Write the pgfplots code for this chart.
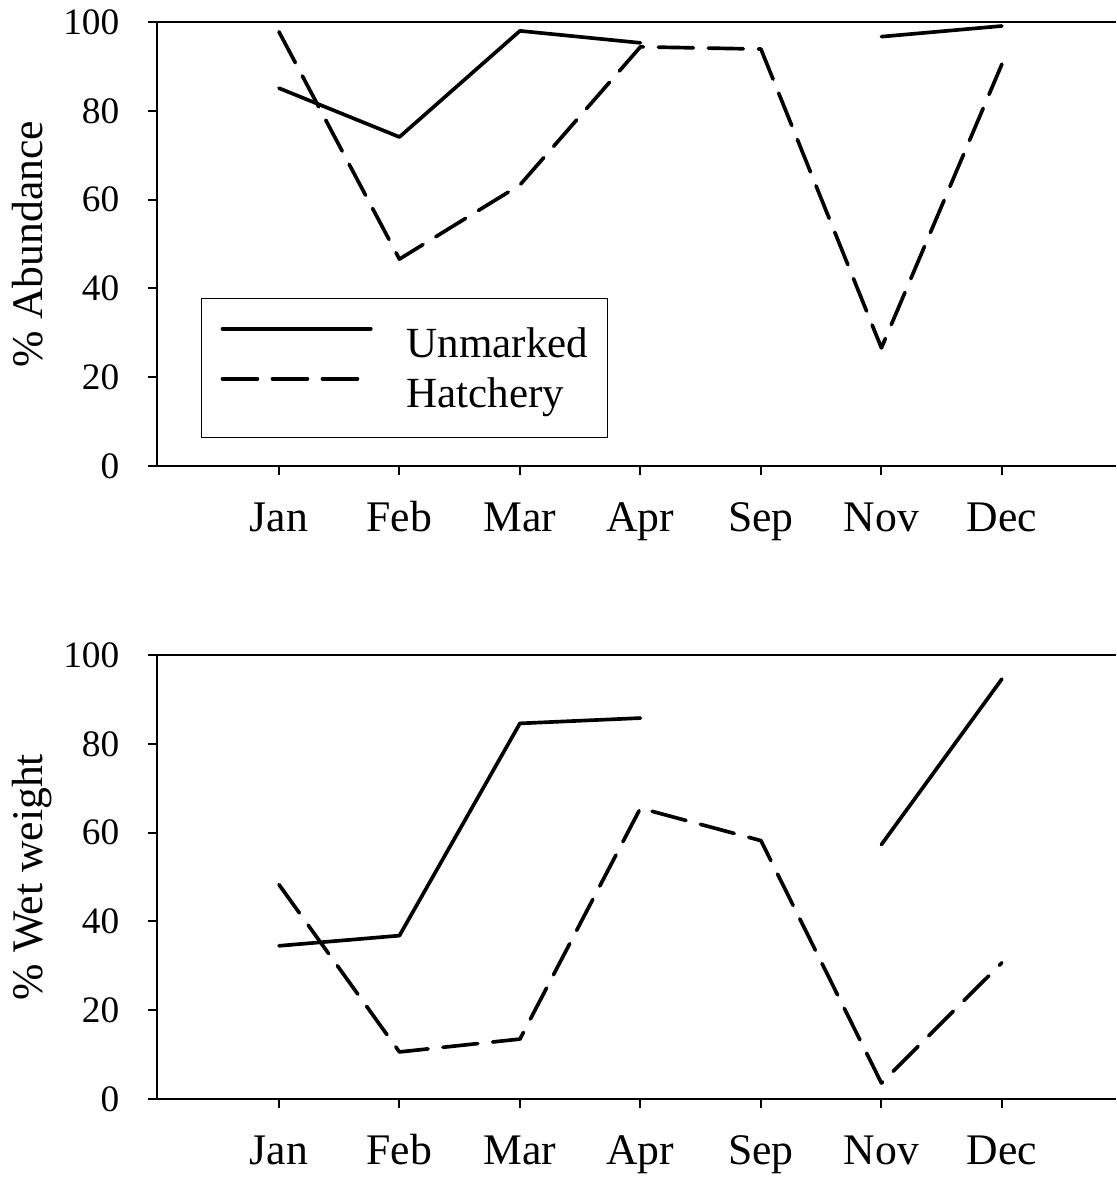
\documentclass[border=0pt]{standalone}
\usepackage{fontspec}
\setmainfont{Liberation Serif}
\usepackage{pgfplots}
\pgfplotsset{compat=1.18}

% one panel of the figure, 1 px of the reference = 0.3pt
\pgfplotsset{
  panel/.style={
    scale only axis,
    width=287.7pt, height=133.2pt,
    xmin=-1.012, xmax=6.947,
    ymin=0, ymax=100,
    axis x line*=box, axis y line*=left,
    xtick pos=bottom, ytick pos=left,
    tick align=outside,
    major tick length=2.7pt,
    axis line style={line width=0.6pt},
    every tick/.style={line width=0.6pt, black},
    xtick={0,...,6},
    xticklabels={Jan,Feb,Mar,Apr,Sep,Nov,Dec},
    ytick={0,20,...,100},
    /pgf/number format/assume math mode=true,
    xticklabel style={anchor=base, inner sep=0pt, yshift=-17pt,
      font=\fontsize{13.1}{15}\selectfont},
    yticklabel style={anchor=east, inner sep=0pt, xshift=-8.4pt,
      font=\fontsize{11.2}{13}\selectfont},
    every axis y label/.style={at={(axis description cs:-0.1199,0.5)},
      rotate=90, anchor=base, inner sep=0pt,
      font=\fontsize{13.1}{15}\selectfont},
    unbounded coords=jump,
    clip=false,
  },
  unmarked/.style={black, line width=1.1pt, line cap=round, line join=round},
  hatchery/.style={black, line width=1.1pt, line cap=round, line join=round,
    dash pattern=on 10.5pt off 4.5pt},
}

\begin{document}
\begin{tikzpicture}
\begin{axis}[panel, at={(0pt,0pt)}, anchor=north west,
    ylabel={\% Abundance},
    legend cell align=left,
    legend image code/.code={\draw[#1] (0pt,4.3pt) -- (44.5pt,4.3pt);},
    legend style={at={(rel axis cs:0.0459,0.378)}, anchor=north west,
      draw=black, line width=0.35pt, fill=white,
      inner xsep=5.7pt, inner ysep=5.8pt,
      column sep=10.2pt, row sep=0pt,
      font=\fontsize{12.9}{15}\selectfont,
      nodes={inner sep=0pt, text height=11.8pt, text depth=3.2pt}}]
  \addplot[unmarked] coordinates {
    (0,85.1) (1,74.1) (2,98.0) (3,95.3) (4,nan) (5,96.7) (6,99.1)};
  \addlegendentry{Unmarked}
  \addplot[hatchery] coordinates {
    (0,97.8) (1,46.6) (2,63.3) (3,94.4) (4,93.9) (5,26.6) (6,90.5)};
  \addlegendentry{Hatchery}
\end{axis}

\begin{axis}[panel, at={(0pt,-189.9pt)}, anchor=north west,
    ylabel={\% Wet weight}]
  \addplot[unmarked] coordinates {
    (0,34.5) (1,36.8) (2,84.6) (3,85.8) (4,nan) (5,57.3) (6,94.6)};
  \addplot[hatchery] coordinates {
    (0,48.3) (1,10.6) (2,13.5) (3,65.5) (4,58.2) (5,3.6) (6,30.7)};
\end{axis}

\pgfresetboundingbox
\path[use as bounding box] (-47.1pt,6.6pt) rectangle (287.7pt,-346.5pt);
\end{tikzpicture}
\end{document}
